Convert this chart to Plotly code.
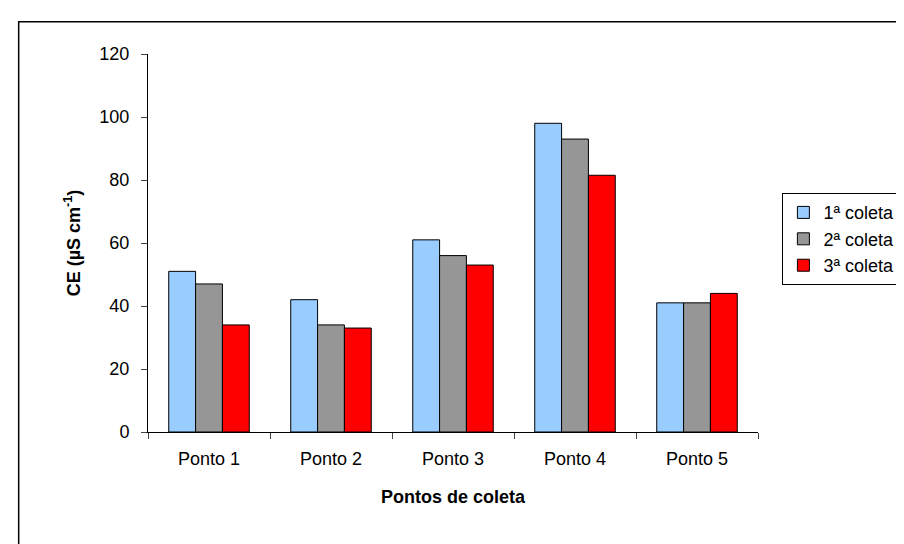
import plotly.graph_objects as go

categories = ["Ponto 1", "Ponto 2", "Ponto 3", "Ponto 4", "Ponto 5"]
coleta1 = [51, 42, 61, 98, 41]
coleta2 = [47, 34, 56, 93, 41]
coleta3 = [34, 33, 53, 81.5, 44]

fig = go.Figure()
for name, vals, col in [("1ª coleta", coleta1, "#99ccff"),
                        ("2ª coleta", coleta2, "#969696"),
                        ("3ª coleta", coleta3, "#ff0000")]:
    fig.add_bar(x=categories, y=vals, name=name, marker=dict(color=col, line=dict(color="black", width=1)))

fig.update_layout(
    width=904, height=544, paper_bgcolor="white", plot_bgcolor="white",
    margin=dict(l=140, r=146, t=46, b=120),
    barmode="group", bargap=0.34, bargroupgap=0,
    font=dict(family="Liberation Sans, Arial", size=18, color="black"),
    legend=dict(x=1.04, y=0.51, xanchor="left", yanchor="middle", bordercolor="black", borderwidth=1,
                font=dict(size=18), tracegroupgap=2),
    xaxis=dict(showline=True, linecolor="black", ticks="outside", tickson="boundaries", ticklen=6,
               ticklabelstandoff=10,
               title=dict(text="<b>Pontos de coleta</b>", font=dict(size=18), standoff=22)),
    yaxis=dict(range=[0, 120], dtick=20, showline=True, linecolor="black", ticks="outside", ticklen=6,
               ticklabelstandoff=8, showgrid=False, zeroline=False,
               title=dict(text="<b>CE (µS cm<sup>-1</sup>)</b>", font=dict(size=18), standoff=14)),
    shapes=[dict(type="rect", xref="paper", yref="paper", x0=-0.212, x1=2, y0=-1, y1=1.085,
                 line=dict(color="black", width=1.5))],
)
fig.write_html("out.html")
